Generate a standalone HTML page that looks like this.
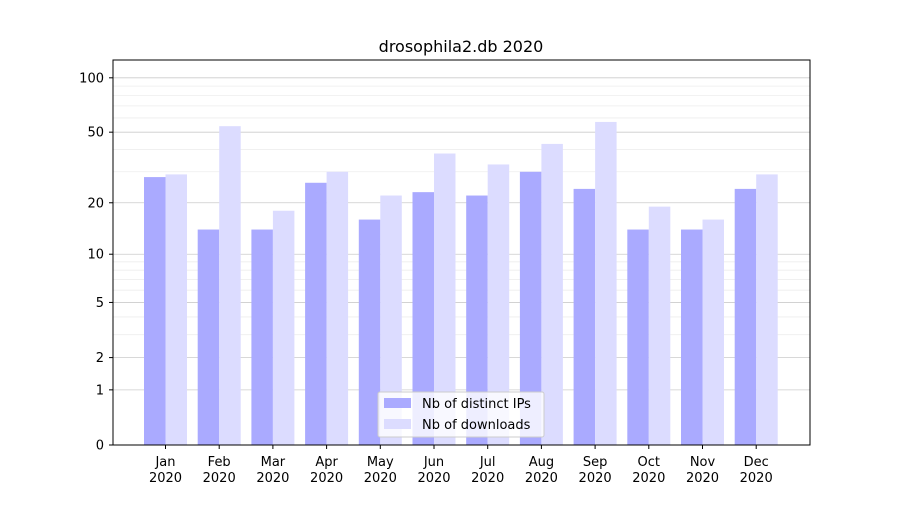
<!DOCTYPE html>
<html><head><meta charset="utf-8"><style>
body{margin:0;background:#fff;font-family:"Liberation Sans","DejaVu Sans",sans-serif;}
svg text{font-family:"DejaVu Sans","Liberation Sans",sans-serif;}
</style></head><body>
<svg id="chart" width="900" height="500" xmlns="http://www.w3.org/2000/svg">
<rect width="900" height="500" fill="#fff"/>
<g id="grid"></g>
<g id="bars"></g>
<rect x="113" y="60" width="697" height="385" fill="none" stroke="#000" stroke-width="1"/>
<g id="yaxis"></g>
<g id="xaxis"></g>
<text x="461" y="52" font-size="16" text-anchor="middle">drosophila2.db 2020</text>
<g>
<rect x="378" y="392" width="166" height="45" fill="#fff" fill-opacity="0.8" stroke="#ccc" rx="2"/>
<rect x="384" y="398" width="27" height="10" fill="#aaaaff"/>
<text x="422" y="408" font-size="13">Nb of distinct IPs</text>
<rect x="384" y="419" width="27" height="10" fill="#dcdcff"/>
<text x="422" y="429" font-size="13">Nb of downloads</text>
</g>
</svg>
<script>
const months = ["Jan","Feb","Mar","Apr","May","Jun","Jul","Aug","Sep","Oct","Nov","Dec"];
const ips = [28,14,14,26,16,23,22,30,24,14,14,24];
const downloads = [29,54,18,30,22,38,33,43,57,19,16,29];
const yTicks = [0,1,2,5,10,20,50,100];
const yMinor = [3,4,6,7,8,9,30,40,60,70,80,90];
const NS="http://www.w3.org/2000/svg";
function y(v){return 445-183.2*Math.log10(1+v);}
function xc(i){return 165.5+i*53.7;}
function mk(tag,attrs,parent){const e=document.createElementNS(NS,tag);for(const k in attrs)e.setAttribute(k,attrs[k]);parent.appendChild(e);return e;}
const grid=document.getElementById('grid'),bars=document.getElementById('bars'),ya=document.getElementById('yaxis'),xa=document.getElementById('xaxis');
yMinor.forEach(v=>{const l=mk('line',{x1:113,x2:810,y1:y(v),y2:y(v),stroke:'#eee','stroke-width':0.8},grid);

});
yTicks.forEach(v=>{const l=mk('line',{x1:113,x2:810,y1:y(v),y2:y(v),stroke:'#ccc','stroke-width':0.8},grid);


const t=mk('line',{x1:109,x2:113,y1:y(v),y2:y(v),stroke:'#000'},ya);


const tx=mk('text',{x:104,y:y(v)+4.5,'font-size':13,'text-anchor':'end'},ya);tx.textContent=v;

});
months.forEach((m,i)=>{const c=xc(i);
const b1=mk('rect',{x:c-21.5,y:y(ips[i]),width:21.5,height:445-y(ips[i]),fill:'#aaaaff'},bars);


const b2=mk('rect',{x:c,y:y(downloads[i]),width:21.5,height:445-y(downloads[i]),fill:'#dcdcff'},bars);


const t=mk('line',{x1:c,x2:c,y1:445,y2:449,stroke:'#000'},xa);


const tx=mk('text',{x:c,y:466,'font-size':13,'text-anchor':'middle'},xa);tx.textContent=m;


const ty=mk('text',{x:c,y:482,'font-size':13,'text-anchor':'middle'},xa);ty.textContent='2020';

});
</script>
</body></html>
